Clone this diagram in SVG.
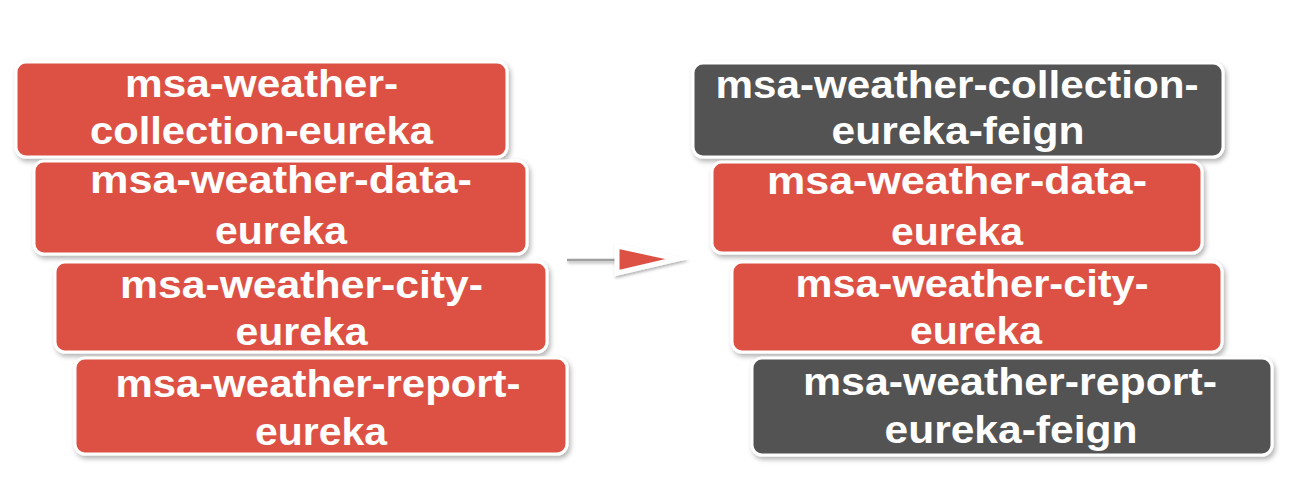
<svg xmlns="http://www.w3.org/2000/svg" width="1300" height="483" viewBox="0 0 1300 483">
  <defs>
    <filter id="sh" x="-10%" y="-20%" width="120%" height="150%">
      <feDropShadow dx="2" dy="3" stdDeviation="2.5" flood-color="#000" flood-opacity="0.3"/>
    </filter>
    <filter id="shl" filterUnits="userSpaceOnUse" x="550" y="230" width="160" height="60">
      <feDropShadow dx="1" dy="2" stdDeviation="1.5" flood-color="#000" flood-opacity="0.3"/>
    </filter>
    <style>
      .box{stroke:#ffffff;stroke-width:3;filter:url(#sh)}
      .red{fill:#DD5145}
      .dark{fill:#535353}
      .t{font-family:"Liberation Sans",Arial,sans-serif;font-weight:bold;font-size:38px;fill:#ffffff;text-anchor:middle}
    </style>
  </defs>
  <rect width="1300" height="483" fill="#ffffff"/>

  <g id="connectors">
    <line x1="567" y1="260" x2="619" y2="260" stroke="#a0a0a0" stroke-width="2.5" filter="url(#shl)"/>
    <polygon points="617,246 677,259 617,273" fill="#DD5145" stroke="#ffffff" stroke-width="5" stroke-linejoin="miter" stroke-miterlimit="10" filter="url(#shl)"/>
  </g>

  <g id="left-collection">
    <rect class="box red" x="16" y="62" width="491" height="95" rx="10"/>
    <text class="t" x="261.5" y="97" textLength="273" lengthAdjust="spacingAndGlyphs">msa-weather-</text>
    <text class="t" x="261.5" y="144" textLength="343" lengthAdjust="spacingAndGlyphs">collection-eureka</text>
  </g>
  <g id="left-data">
    <rect class="box red" x="34" y="161" width="493" height="93" rx="10"/>
    <text class="t" x="281" y="193" textLength="382" lengthAdjust="spacingAndGlyphs">msa-weather-data-</text>
    <text class="t" x="281" y="244" textLength="132" lengthAdjust="spacingAndGlyphs">eureka</text>
  </g>
  <g id="left-city">
    <rect class="box red" x="55" y="262" width="492" height="90" rx="10"/>
    <text class="t" x="301.5" y="298" textLength="363" lengthAdjust="spacingAndGlyphs">msa-weather-city-</text>
    <text class="t" x="301.5" y="345" textLength="132" lengthAdjust="spacingAndGlyphs">eureka</text>
  </g>
  <g id="left-report">
    <rect class="box red" x="75" y="358" width="492" height="96" rx="10"/>
    <text class="t" x="318" y="397" textLength="405" lengthAdjust="spacingAndGlyphs">msa-weather-report-</text>
    <text class="t" x="321" y="445" textLength="132" lengthAdjust="spacingAndGlyphs">eureka</text>
  </g>

  <g id="right-collection">
    <rect class="box dark" x="693" y="63" width="530" height="94" rx="10"/>
    <text class="t" x="957" y="98" textLength="483" lengthAdjust="spacingAndGlyphs">msa-weather-collection-</text>
    <text class="t" x="958" y="144" textLength="253" lengthAdjust="spacingAndGlyphs">eureka-feign</text>
  </g>
  <g id="right-data">
    <rect class="box red" x="712" y="162" width="490" height="91" rx="10"/>
    <text class="t" x="957" y="194" textLength="380" lengthAdjust="spacingAndGlyphs">msa-weather-data-</text>
    <text class="t" x="957" y="245" textLength="132" lengthAdjust="spacingAndGlyphs">eureka</text>
  </g>
  <g id="right-city">
    <rect class="box red" x="732" y="262" width="490" height="90" rx="10"/>
    <text class="t" x="972" y="297" textLength="353" lengthAdjust="spacingAndGlyphs">msa-weather-city-</text>
    <text class="t" x="976" y="344" textLength="132" lengthAdjust="spacingAndGlyphs">eureka</text>
  </g>
  <g id="right-report">
    <rect class="box dark" x="752" y="358" width="520" height="97" rx="10"/>
    <text class="t" x="1010" y="395" textLength="414" lengthAdjust="spacingAndGlyphs">msa-weather-report-</text>
    <text class="t" x="1011" y="443" textLength="253" lengthAdjust="spacingAndGlyphs">eureka-feign</text>
  </g>
</svg>
